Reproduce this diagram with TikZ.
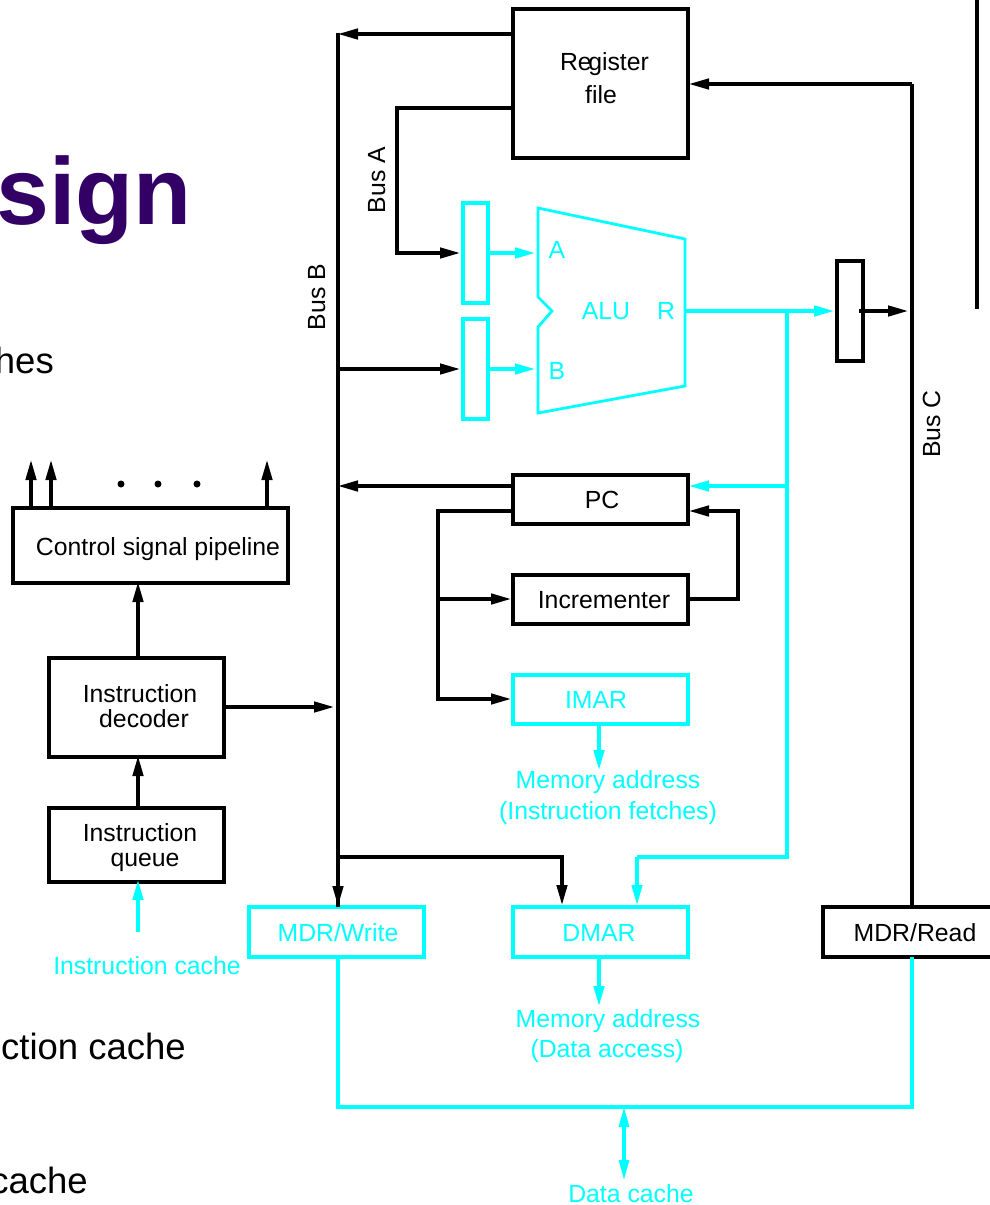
\documentclass[tikz,border=0pt]{standalone}
\usepackage{fontspec}
\setmainfont{Liberation Sans}
\newfontfamily\titlefont{Liberation Sans}[BoldFont={Liberation Sans Bold}]
\usetikzlibrary{arrows.meta}
\definecolor{cy}{HTML}{00FFFF}
\definecolor{titlepurple}{HTML}{330066}
\tikzset{
  x=1pt,y=-1pt,
  blk/.style={draw=black,line width=3.1pt},
  cyn/.style={draw=cy,line width=3.1pt},
  boxb/.style={blk,rectangle,inner sep=0pt,outer sep=0pt,minimum width=#1},
  boxc/.style={cyn,rectangle,inner sep=0pt,outer sep=0pt,minimum width=#1},
  wire/.style={black,line width=3.1pt,line cap=butt,line join=miter},
  wirec/.style={cy,line width=3.1pt,line cap=butt,line join=miter},
  tip/.style={-{Triangle[length=20pt,width=10.5pt]}},
  lab/.style={font=\fontsize{24.8pt}{24.8pt}\selectfont,inner sep=0pt,anchor=base,text=black},
  labc/.style={lab,text=cy},
  body/.style={font=\fontsize{36.5pt}{36.5pt}\selectfont,inner sep=0pt,anchor=base east,text=black},
  dot/.style={circle,fill=black,inner sep=0pt,minimum size=7pt},
}
\begin{document}
\begin{tikzpicture}
\useasboundingbox (0,0) rectangle (990,1205);
\clip (0,0) rectangle (990,1205);
% slide fragments
\node[font=\titlefont\bfseries\fontsize{95pt}{95pt}\selectfont,text=titlepurple,inner sep=0pt,anchor=base east] (title) at (192,224) {sign};
\node[body] (t1) at (54,373) {hes};
\node[body] (t2) at (186,1059) {ction cache};
\node[body] (t3) at (88,1193) {cache};
\coordinate (edgetop) at (977,0);
\coordinate (edgebot) at (977,309);
\draw[wire] (edgetop) -- (edgebot);
% boxes
\node[boxb=175pt,minimum height=149pt] (reg) at (600.5,83.5) {};
\node[boxc=25pt,minimum height=100pt] (la) at (475.5,253) {};
\node[boxc=25pt,minimum height=100pt] (lb) at (475.5,369) {};
\node[boxb=26pt,minimum height=100pt] (lr) at (850,311) {};
\node[boxb=175pt,minimum height=49pt] (pc) at (600.5,499.5) {};
\node[boxb=175pt,minimum height=49pt] (inc) at (600.5,599.5) {};
\node[boxc=175pt,minimum height=49pt] (imar) at (600.5,699.5) {};
\node[boxc=175pt,minimum height=50pt] (mdw) at (336.5,932) {};
\node[boxc=175pt,minimum height=50pt] (dmar) at (600.5,932) {};
\node[boxb=175pt,minimum height=50pt] (mdr) at (910.5,932) {};
\node[boxb=275pt,minimum height=75pt] (ctl) at (150.5,545.5) {};
\node[boxb=175pt,minimum height=99pt] (dec) at (136.5,707.5) {};
\node[boxb=175pt,minimum height=74pt] (que) at (136.5,845) {};
% ALU
\draw[cyn,line width=2.8pt,line join=miter] (538,208) coordinate (alua) -- (685,239) -- (685,386) coordinate (alub) -- (538,413) -- (538,327) -- (552,311) -- (538,297) -- cycle;
\coordinate (alur) at (685,311);
% labels
\node[lab] (l1) at (604.5,70) {Re\kern-3.5pt gister};
\node[lab] (l2) at (601,103) {file};
\node[labc] (l3) at (557,258) {A};
\node[labc] (l4) at (557,379) {B};
\node[labc] (l5) at (606,319) {ALU};
\node[labc] (l6) at (666,319) {R};
\node[lab] (l7) at (602,508) {PC};
\node[lab] (l8) at (604,608) {Incrementer};
\node[labc] (l9) at (596,708) {IMAR};
\node[labc] (l10) at (608,788) {Memory address};
\node[labc] (l11) at (608,819) {(Instruction fetches)};
\node[labc] (l12) at (338,941) {MDR/Write};
\node[labc] (l13) at (599,941) {DMAR};
\node[lab] (l14) at (915,941) {MDR/Read};
\node[labc] (l15) at (608,1027) {Memory address};
\node[labc] (l16) at (607,1057) {(Data access)};
\node[labc] (l17) at (631,1202) {Data cache};
\node[labc] (l18) at (147,974) {Instruction cache};
\node[lab] (l19) at (158,555) {Control signal pipeline};
\node[lab] (l20) at (140,702) {Instruction};
\node[lab] (l21) at (144,727) {decoder};
\node[lab] (l22) at (140,841) {Instruction};
\node[lab] (l23) at (145,866) {queue};
\node[lab,rotate=90] (busa) at (385,180) {Bus A};
\node[lab,rotate=90] (busb) at (325,297) {Bus B};
\node[lab,rotate=90] (busc) at (940,424) {Bus C};
% dots
\node[dot] (d1) at (121,484) {};
\node[dot] (d2) at (158,484) {};
\node[dot] (d3) at (197,484) {};
% coordinates
\coordinate (bbt) at (338,34);
\coordinate (bba) at (397,108);
\coordinate (bbb) at (338,369);
\coordinate (bbpc) at (338,486);
\coordinate (bbdec) at (334,707);
\coordinate (bbd) at (338,857);
\coordinate (lai) at (460,253);
\coordinate (lbi) at (460,369);
\coordinate (ccol) at (787,311);
\coordinate (ccold) at (787,857);
\coordinate (cdm) at (637,857);
\coordinate (cpc) at (787,486);
\coordinate (pcb) at (438,511);
\coordinate (pci) at (438,599);
\coordinate (pcm) at (438,699);
\coordinate (inr) at (738,599);
\coordinate (inr2) at (738,511);
\coordinate (buscT) at (912,84);
\coordinate (buscB) at (912,907);
\coordinate (buscL) at (912,311);
\coordinate (dmb) at (562,857);
\coordinate (cbl) at (338,1107);
\coordinate (cbr) at (912,1107);
\coordinate (dcm) at (624,1107);
\coordinate (dce) at (624,1180);
\coordinate (im) at (599,770);
\coordinate (dm) at (599,1006);
\coordinate (qi) at (138,932);
\coordinate (u1) at (31,460);
\coordinate (u2) at (51,460);
\coordinate (u3) at (267,460);
\coordinate (lrs) at (859,311);
% black connectors
\draw[wire,tip] (reg.west |- bbt) -- (bbt);
\draw[wire] ([yshift=1.3pt]bbt) -- (bbt |- mdw.north);
\draw[wire,tip] (reg.west |- bba) -- (bba) -- (bba |- lai) -- (lai);
\draw[wire,tip] (bbb) -- (lbi);
\draw[wire,tip] (pc.west |- bbpc) -- (bbpc);
\draw[wire,tip] (pc.west |- pcb) -- (pcb) -- (pcm) -- ([xshift=-2pt]imar.west |- pcm);
\draw[wire,tip] (pci) -- ([xshift=-2pt]inc.west |- pci);
\draw[wire,tip] (inc.east |- inr) -- (inr) -- (inr2) -- ([xshift=1pt]pc.east |- inr2);
\draw[wire,tip] (bbt |- mdw.north) ++(0,-22) -- ([yshift=1pt]bbt |- mdw.north);
\draw[wire,tip] (bbd) -- (dmb) -- ([yshift=2pt]dmb |- dmar.north);
\draw[wire] (buscB) -- (buscT);
\draw[wire,tip] (buscT) -- ([xshift=1pt]reg.east |- buscT);
\draw[wire,tip] (lrs) -- ([xshift=-4pt]buscL);
\draw[wire,tip] (dec.east |- bbdec) -- (bbdec);
\draw[wire,tip] (dec.north |- ctl.south) ++(1.5,75) -- ([xshift=1.5pt,yshift=1pt]dec.north |- ctl.south);
\draw[wire,tip] ([xshift=1.5pt]que.north) -- ([xshift=1.5pt,yshift=1pt]dec.south);
\draw[wire,tip] (u1 |- ctl.north) -- (u1);
\draw[wire,tip] (u2 |- ctl.north) -- (u2);
\draw[wire,tip] (u3 |- ctl.north) -- (u3);
% cyan connectors
\draw[wirec,tip] (la.east) -- ([xshift=-3pt]alua |- la.east);
\draw[wirec,tip] (lb.east) -- ([xshift=-3pt]alua |- lb.east);
\draw[wirec,tip] (alur) -- ([xshift=-3pt]lr.west |- alur);
\draw[wirec] (ccol) -- (ccold) -- (cdm);
\draw[wirec,tip] (cdm) -- ([yshift=2pt]cdm |- dmar.north);
\draw[wirec,tip] (cpc) -- ([xshift=1pt]pc.east |- cpc);
\draw[wirec,tip] (im |- imar.south) -- (im);
\draw[wirec,tip] (dm |- dmar.south) -- (dm);
\draw[wirec,tip] (qi) -- ([xshift=1.5pt,yshift=2pt]que.south);
\draw[wirec] (cbl |- mdw.south) -- (cbl) -- (cbr) -- (cbr |- mdr.south);
\draw[wirec,{Triangle[length=20pt,width=10pt]}-{Triangle[length=20pt,width=10pt]}] (dcm) -- (dce);
\end{tikzpicture}
\end{document}
